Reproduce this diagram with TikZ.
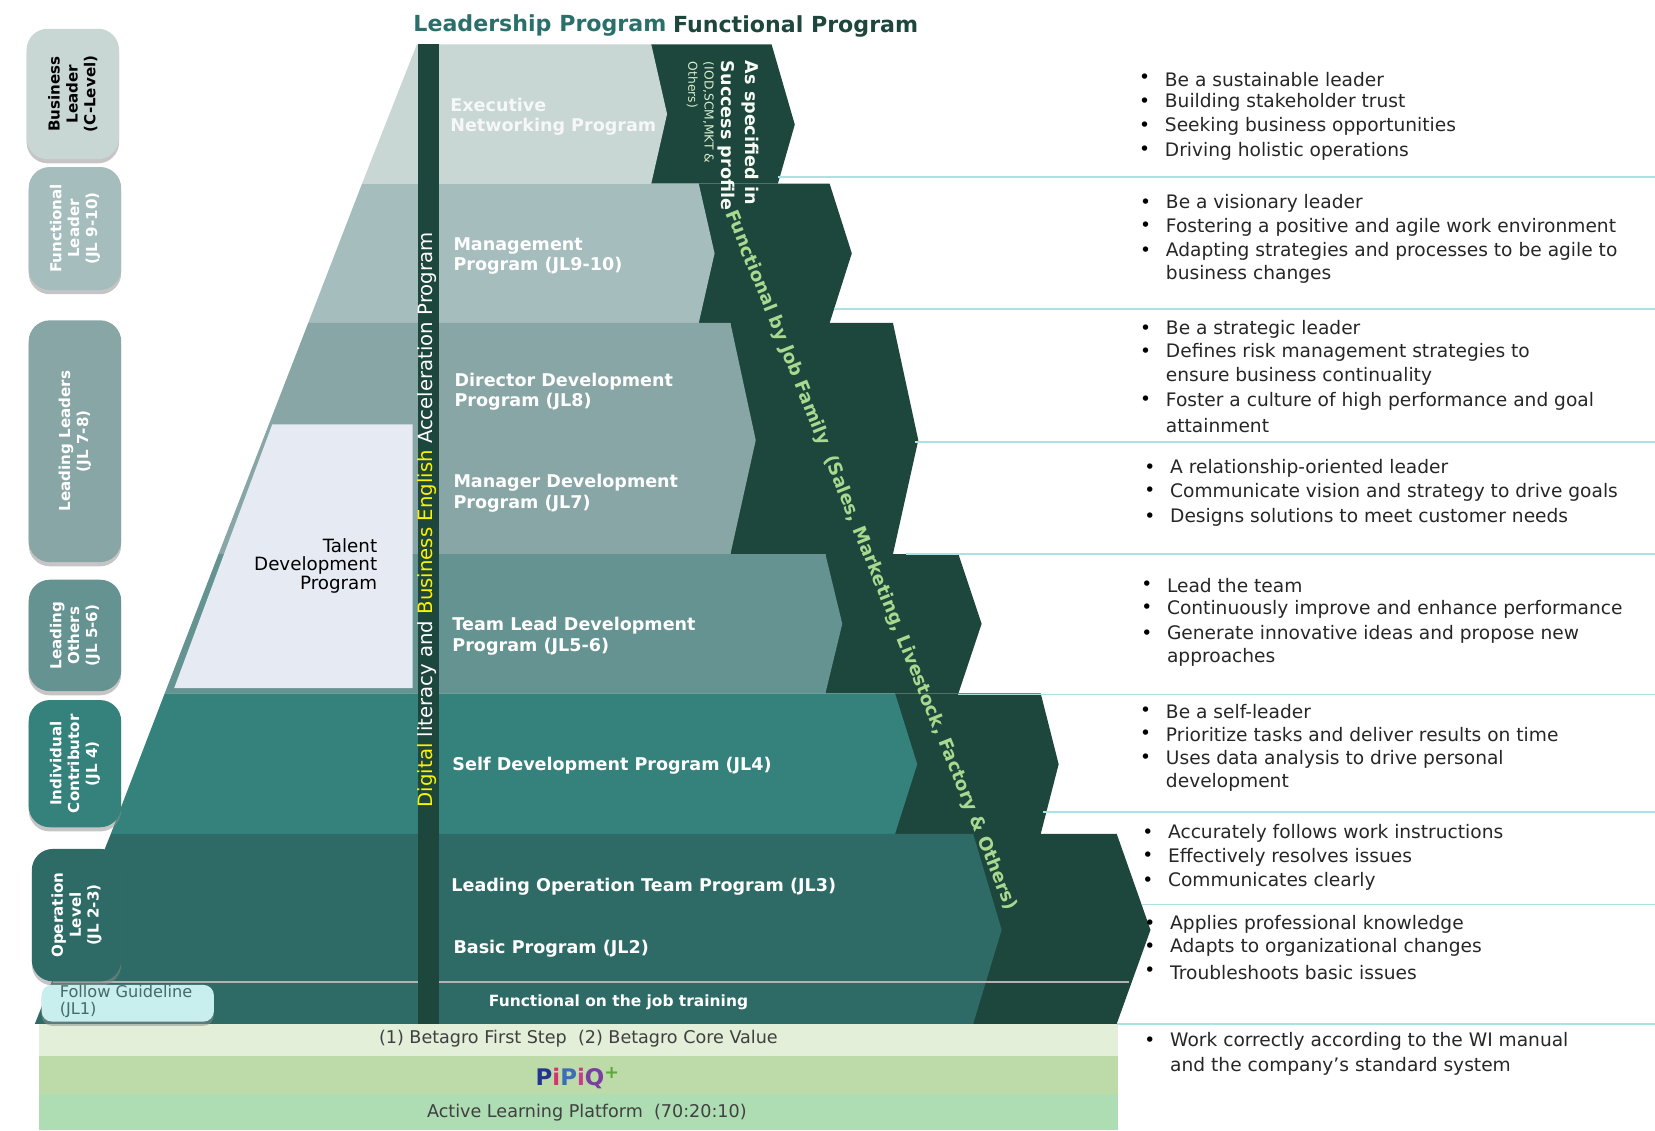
\documentclass[tikz,border=0pt]{standalone}
\usepackage{fontspec}
\setmainfont{DejaVu Sans}
\usetikzlibrary{shadows}
\definecolor{darkfn}{HTML}{1D463D}
\definecolor{bandA}{HTML}{C8D6D4}
\definecolor{bandB}{HTML}{A5BDBD}
\definecolor{bandC}{HTML}{87A6A5}
\definecolor{bandD}{HTML}{659391}
\definecolor{bandE}{HTML}{35827D}
\definecolor{bandF}{HTML}{2E6A66}
\definecolor{rulecyan}{HTML}{A8E2E2}
\definecolor{fngreen}{HTML}{A9D98F}
\tikzset{
  levelbox/.style={rounded corners=6pt, inner sep=0pt, font=\bfseries\fontsize{4.3}{5.1}\selectfont, align=center, rotate=90, drop shadow={shadow xshift=0pt, shadow yshift=-1.2pt, fill=black!45}},
  bandtext/.style={anchor=west, inner sep=0pt, text=white, align=left, font=\bfseries\fontsize{5}{5.9}\selectfont},
  pointtext/.style={anchor=west, inner sep=0pt, text=black!85, font=\fontsize{5.3}{6.6}\selectfont},
  bulleted/.style={pointtext, label={[inner sep=0pt, text=black, label distance=3.8pt, font=\fontsize{5.3}{6.6}\selectfont]left:•}},
  hline/.style={rulecyan, line width=0.5pt},
  stripetext/.style={inner sep=0pt, text=black!75, font=\fontsize{5}{6}\selectfont}
}
\begin{document}
\begin{tikzpicture}[x=0.010555cm, y=-0.010555cm]
\useasboundingbox (0,0) rectangle (1568,1070.6);
% functional program chevrons
\fill[darkfn] (617,42) -- (731,42) -- (753,118) -- (737,174) -- (617,174) -- cycle;
\fill[darkfn] (662,174) -- (786,174) -- (807,240) -- (786,306) -- (662,306) -- cycle;
\fill[darkfn] (692,306) -- (846,306) -- (870,417) -- (846,525) -- (692,525) -- cycle;
\fill[darkfn] (782,525) -- (908,525) -- (930,591) -- (908,657) -- (782,657) -- cycle;
\fill[darkfn] (848,657) -- (986,657) -- (1003,724) -- (986,790) -- (848,790) -- cycle;
\fill[darkfn] (922,790) -- (1058,790) -- (1090,881) -- (1058,970) -- (922,970) -- cycle;
% leadership program bands
\fill[bandA] (395,42) -- (617,42) -- (632,108) -- (617,174) -- (343,174) -- cycle;
\fill[bandB] (343,174) -- (662,174) -- (677,240) -- (662,306) -- (292,306) -- cycle;
\fill[bandC] (292,306) -- (692,306) -- (716,417) -- (692,525) -- (207,525) -- cycle;
\fill[bandD] (207,525) -- (782,525) -- (798,591) -- (782,657) -- (156,657) -- cycle;
\fill[bandE] (156,657) -- (848,657) -- (869,724) -- (848,790) -- (105,790) -- cycle;
\fill[bandF] (105,790) -- (922,790) -- (949,881) -- (922,970) -- (33,970) -- cycle;
\fill[black!8, fill=white!70!bandC] (0,0) -- (0,0);
% talent box
\fill[fill={rgb,255:red,230;green,234;blue,243}] (258,402) -- (391,402) -- (391,652) -- (165,652) -- cycle;
\node[anchor=east, inner sep=0pt, align=right, text=black, font=\fontsize{5.2}{5.2}\selectfont] (talent) at (358,536) {Talent\\Development\\Program};
% guideline rule and center bar
\draw[black!30, line width=0.5pt] (50,930) -- (1070,930);
\fill[darkfn] (396,42) rectangle (416,970);
\node[rotate=90, inner sep=0pt, text=white, font=\fontsize{5.6}{6}\selectfont] (literacy) at (405,492.5) {\textcolor{yellow}{Digital} literacy and \textcolor{yellow}{Business English} Acceleration Program};
% bottom stripes
\fill[fill={rgb,255:red,227;green,239;blue,217}] (37,970) rectangle (1059,1000);
\fill[fill={rgb,255:red,189;green,219;blue,169}] (37,1000) rectangle (1059,1036);
\fill[fill={rgb,255:red,174;green,221;blue,180}] (37,1036) rectangle (1059,1071);
\node[stripetext] (firststep) at (548,984) {(1) Betagro First Step\ \ (2) Betagro Core Value};
\node[inner sep=0pt, font=\bfseries\fontsize{6.5}{7}\selectfont] (pipiq) at (547,1021) {\textcolor[HTML]{24348F}{P}\textcolor[HTML]{D8326E}{i}\textcolor[HTML]{3E6DB8}{P}\textcolor[HTML]{C93C8C}{i}\textcolor[HTML]{7A3FA0}{Q}\raisebox{2pt}{\textcolor[HTML]{5BA83C}{\fontsize{5}{5}\selectfont+}}};
\node[stripetext] (platform) at (556,1054) {Active Learning Platform\ \ (70:20:10)};
% headings
\node[anchor=west, inner sep=0pt, text={rgb,255:red,43;green,111;blue,106}, font=\bfseries\fontsize{6.3}{7}\selectfont] (leadhead) at (391,24) {Leadership Program};
\node[anchor=west, inner sep=0pt, text=darkfn, font=\bfseries\fontsize{6.3}{7}\selectfont] (funchead) at (637,25) {Functional Program};
% band labels
\node[bandtext, text=white!82!bandA] (exec) at (426,110.5) {Executive\\Networking Program};
\node[bandtext] (mgmt) at (429,242.5) {Management\\Program (JL9-10)};
\node[bandtext] (director) at (430,371) {Director Development\\Program (JL8)};
\node[bandtext] (manager) at (429,467.5) {Manager Development\\Program (JL7)};
\node[bandtext] (teamlead) at (428,602.5) {Team Lead Development\\Program (JL5-6)};
\node[bandtext] (selfdev) at (428,725) {Self Development Program (JL4)};
\node[bandtext] (leadop) at (427,840) {Leading Operation Team Program (JL3)};
\node[bandtext] (basic) at (429,899) {Basic Program (JL2)};
\node[inner sep=0pt, text=white, font=\bfseries\fontsize{4.4}{5}\selectfont] (ojt) at (586,950) {Functional on the job training};
% functional texts
\node[rotate=-90, anchor=west, inner sep=0pt, text=white!90!fngreen, font=\bfseries\fontsize{5}{6}\selectfont] (spec) at (711,57) {As specified in};
\node[rotate=-90, anchor=west, inner sep=0pt, text=white!90!fngreen, font=\bfseries\fontsize{5}{6}\selectfont] (succ) at (688,57) {Success profile};
\node[rotate=-90, anchor=north west, inner sep=0pt, align=left, text=white!55!fngreen, font=\fontsize{3.5}{4.6}\selectfont] (iod) at (677,58) {(IOD,SCM,MKT \&\\Others)};
\node[rotate=-68.1, inner sep=0pt, text=fngreen, font=\bfseries\fontsize{5.2}{6}\selectfont] (family) at (825,531) {Functional by Job Family\ \ (Sales, Marketing, Livestock, Factory \& Others)};
% level boxes
\node[levelbox, fill=bandA, minimum height=88\pgflinewidth, text width=0pt] at (-100,-100) {};
\node[levelbox, fill=bandA, text=black, minimum width=124*0.2992pt, minimum height=88*0.2992pt] (bizlead) at (69,89) {Business\\Leader\\(C-Level)};
\node[levelbox, fill=bandB, text=white, minimum width=117*0.2992pt, minimum height=88*0.2992pt] (funclead) at (71,216.5) {Functional\\Leader\\(JL 9-10)};
\node[levelbox, fill=bandC, text=white, minimum width=230*0.2992pt, minimum height=88*0.2992pt] (leadlead) at (71,418) {Leading Leaders\\(JL 7-8)};
\node[levelbox, fill=bandD, text=white, minimum width=106*0.2992pt, minimum height=88*0.2992pt] (leadothers) at (71,602) {Leading\\Others\\(JL 5-6)};
\node[levelbox, fill=bandE, text=white, minimum width=121*0.2992pt, minimum height=88*0.2992pt] (indiv) at (71,723.5) {Individual\\Contributor\\(JL 4)};
\node[levelbox, fill=bandF, text=white, minimum width=126*0.2992pt, minimum height=85*0.2992pt] (oplevel) at (72.5,867) {Operation\\Level\\(JL 2-3)};
\node[rounded corners=3pt, inner sep=0pt, minimum width=164*0.2992pt, minimum height=35*0.2992pt, fill={rgb,255:red,200;green,238;blue,238}, drop shadow={shadow xshift=0pt, shadow yshift=-1.2pt, fill=black!45}] (guide) at (121,950.5) {};
\node[anchor=west, inner sep=0pt, align=left, text={rgb,255:red,70;green,105;blue,105}, font=\fontsize{4.6}{4.7}\selectfont] (guidetext) at (56,949) {Follow Guideline\\(JL1)};
% level rules
\coordinate (r1) at (737,168);
\coordinate (r2) at (790,293);
\coordinate (r3) at (867,419);
\coordinate (r4) at (858,525);
\coordinate (r5) at (908,658);
\coordinate (r6) at (988,769);
\coordinate (r7) at (1082,857);
\coordinate (r8) at (1058,970);
\draw[hline] (r1) -- (1568,168);
\draw[hline] (r2) -- (1568,293);
\draw[hline] (r3) -- (1568,419);
\draw[hline] (r4) -- (1568,525);
\draw[hline] (r5) -- (1568,658);
\draw[hline] (r6) -- (1568,769);
\draw[hline] (r7) -- (1568,857);
\draw[hline] (r8) -- (1568,970);
% points
\node[bulleted] (pa1) at (1103,75) {Be a sustainable leader};
\node[bulleted] (pa2) at (1103,97) {Building stakeholder trust};
\node[bulleted] (pa3) at (1103,120) {Seeking business opportunities};
\node[bulleted] (pa4) at (1103,143) {Driving holistic operations};
\node[bulleted] (pb1) at (1104,193) {Be a visionary leader};
\node[bulleted] (pb2) at (1104,215) {Fostering a positive and agile work environment};
\node[bulleted] (pb3) at (1104,238) {Adapting strategies and processes to be agile to};
\node[pointtext] (pb4) at (1104,260) {business changes};
\node[bulleted] (pc1) at (1104,312) {Be a strategic leader};
\node[bulleted] (pc2) at (1104,334) {Defines risk management strategies to};
\node[pointtext] (pc3) at (1104,357) {ensure business continuality};
\node[bulleted] (pc4) at (1104,380) {Foster a culture of high performance and goal};
\node[pointtext] (pc5) at (1104,403) {attainment};
\node[bulleted] (pd1) at (1108,444) {A relationship-oriented leader};
\node[bulleted] (pd2) at (1108,466) {Communicate vision and strategy to drive goals};
\node[bulleted] (pd3) at (1108,490) {Designs solutions to meet customer needs};
\node[bulleted] (pe1) at (1105,555) {Lead the team};
\node[bulleted] (pe2) at (1105,577) {Continuously improve and enhance performance};
\node[bulleted] (pe3) at (1105,601) {Generate innovative ideas and propose new};
\node[pointtext] (pe4) at (1105,623) {approaches};
\node[bulleted] (pf1) at (1104,674) {Be a self-leader};
\node[bulleted] (pf2) at (1104,696) {Prioritize tasks and deliver results on time};
\node[bulleted] (pf3) at (1104,719) {Uses data analysis to drive personal};
\node[pointtext] (pf4) at (1104,741) {development};
\node[bulleted] (pg1) at (1106,790) {Accurately follows work instructions};
\node[bulleted] (pg2) at (1106,812) {Effectively resolves issues};
\node[bulleted] (pg3) at (1106,835) {Communicates clearly};
\node[bulleted] (ph1) at (1108,876) {Applies professional knowledge};
\node[bulleted] (ph2) at (1108,898) {Adapts to organizational changes};
\node[bulleted] (ph3) at (1108,921) {Troubleshoots basic issues};
\node[bulleted] (pi1) at (1108,987) {Work correctly according to the WI manual};
\node[pointtext] (pi2) at (1108,1010) {and the company's standard system};
\end{tikzpicture}
\end{document}
